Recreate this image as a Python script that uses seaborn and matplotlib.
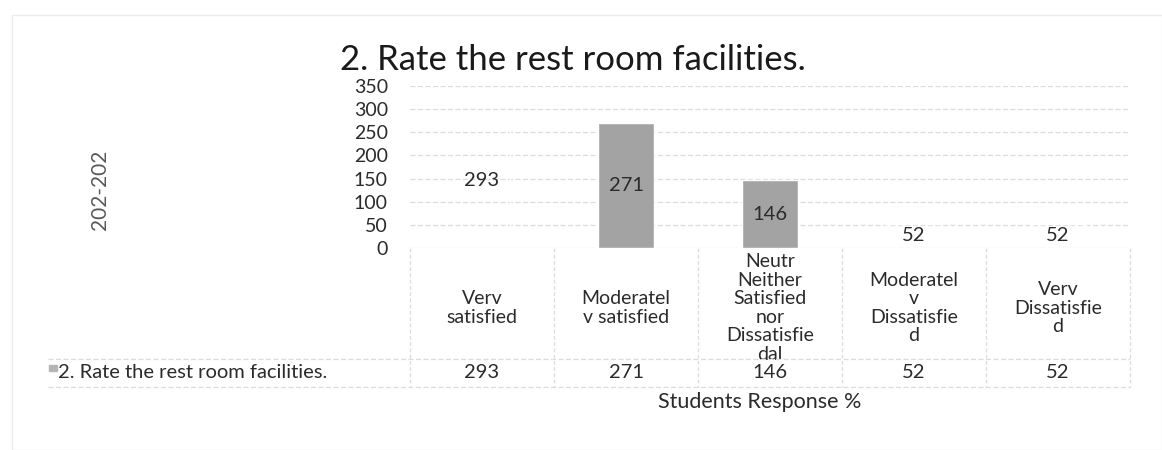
import matplotlib
matplotlib.use("Agg")
import matplotlib.pyplot as plt
import matplotlib.transforms as mtransforms
from matplotlib.patches import Rectangle
from matplotlib.lines import Line2D
import seaborn as sns
import pandas as pd

# --- chart data ---
title = "2. Rate the rest room facilities."
series_name = "2. Rate the rest room facilities."
categories = [
    "Verv\nsatisfied",
    "Moderatel\nv satisfied",
    "Neutr\nNeither\nSatisfied\nnor\nDissatisfie\ndal",
    "Moderatel\nv\nDissatisfie\nd",
    "Verv\nDissatisfie\nd",
]
values = [293, 271, 146, 52, 52]
# only two bars survived the scan, the rest came out white
bar_colors = ["#ffffff", "#a3a3a3", "#a3a3a3", "#ffffff", "#ffffff"]
y_ticks = [0, 50, 100, 150, 200, 250, 300, 350]
y_label = "202-202"
x_label = "Students Response %"

sns.set_theme(style="white")
plt.rcParams['font.family'] = ['Lato', 'DejaVu Sans']

W, H = 1162, 450
text_col = "#2b2b2b"
grid_col = "#dcdcdc"

df = pd.DataFrame({"category": categories, "value": values})

fig = plt.figure(figsize=(W / 100, H / 100), dpi=100)
fig.patch.set_facecolor("white")

# plot area in pixels: x 410..1130, y 86..248
ax = fig.add_axes([410 / W, 1 - 248 / H, (1130 - 410) / W, 162 / H])
sns.barplot(data=df, x="category", y="value", hue="category", palette=bar_colors,
            legend=False, width=0.39, saturation=1, ax=ax)

# washed-out bars: let the grid show through them
for p in ax.patches:
    if p.get_facecolor()[:3] == (1.0, 1.0, 1.0):
        p.set_facecolor((1, 1, 1, 0))

# value labels in the middle of each bar
for cont in ax.containers:
    ax.bar_label(cont, label_type="center", fontsize=14.5, color=text_col)

ax.set_ylim(0, 350)
ax.set_yticks(y_ticks)
ax.set_yticklabels([str(t) for t in y_ticks], fontsize=14, color=text_col)
ax.tick_params(axis="y", length=0, pad=16)
ax.set_xticks([])
ax.set_xlabel("")
ax.set_ylabel("")
ax.yaxis.grid(True, color=grid_col, linestyle=(0, (4, 2)), linewidth=0.9)
ax.set_axisbelow(True)
for s in ax.spines.values():
    s.set_visible(False)

# data table under the axis (Excel style)
bt = mtransforms.blended_transform_factory(ax.transData, fig.transFigure)
n = len(categories)
# category cells cut off at the table row line, like the long label in the scan
cell_clip = Rectangle((410 / W, 1 - 359 / H), (1130 - 410) / W, (359 - 248) / H,
                      transform=fig.transFigure, visible=False)
fig.add_artist(cell_clip)
for i, (cat, val) in enumerate(zip(categories, values)):
    t = ax.text(i, 1 - 308 / H, cat, transform=bt, ha="center", va="center",
                fontsize=14, color=text_col, linespacing=1.1)
    t.set_clip_path(cell_clip)
    ax.text(i, 1 - 373 / H, str(val), transform=bt, ha="center", va="center",
            fontsize=14.5, color=text_col, clip_on=False)

for k in range(n + 1):
    ax.add_line(Line2D([k - 0.5, k - 0.5], [1 - 248 / H, 1 - 387 / H], transform=bt,
                       color=grid_col, linestyle=(0, (3, 2)), linewidth=0.9, clip_on=False))
for yy in (359, 387):
    fig.add_artist(Line2D([48 / W, 1130 / W], [1 - yy / H, 1 - yy / H],
                          color=grid_col, linestyle=(0, (4, 2)), linewidth=0.9))

# legend key + series name in the table row
fig.add_artist(Rectangle((49 / W, 1 - 371 / H), 8 / W, 6 / H, color="#b5b5b5"))
fig.text(58 / W, 1 - 373 / H, series_name, ha="left", va="center",
         fontsize=14.5, color=text_col)

fig.text(573 / W, 1 - 60 / H, title, ha="center", va="center", fontsize=25, color="#1a1a1a")
fig.text(100 / W, 1 - 190 / H, y_label, ha="center", va="center", rotation=90,
         fontsize=15, color="#595959")
fig.text(760 / W, 1 - 402 / H, x_label, ha="center", va="center",
         fontsize=15.5, color=text_col)

# faint outline of the chart area from the scan
fig.add_artist(Rectangle((12 / W, 0), (W - 12) / W, 1 - 15 / H, fill=False,
                         edgecolor="#ececec", linewidth=1))

fig.savefig("out.png", dpi=100)
